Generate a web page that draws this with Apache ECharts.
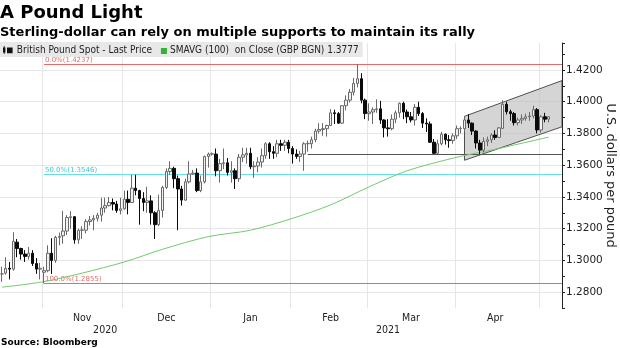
<!DOCTYPE html>
<html>
<head>
<meta charset="utf-8">
<script src="https://cdn.jsdelivr.net/npm/echarts@6/dist/echarts.min.js"></script>
<style>
html, body { margin: 0; padding: 0; background: #fff; }
#chart { width: 620px; height: 348px; }
</style>
</head>
<body>
<div id="chart"></div>
<script>
// Trading days (weekdays) shown on the category axis, grouped by month
const tradingDays = [
  ['2020-10', [16, 19, 20, 21, 22, 23, 26, 27, 28, 29, 30]],
  ['2020-11', [2, 3, 4, 5, 6, 9, 10, 11, 12, 13, 16, 17, 18, 19, 20, 23, 24, 25, 26, 27, 30]],
  ['2020-12', [1, 2, 3, 4, 7, 8, 9, 10, 11, 14, 15, 16, 17, 18, 21, 22, 23, 24, 25, 28, 29, 30, 31]],
  ['2021-01', [1, 4, 5, 6, 7, 8, 11, 12, 13, 14, 15, 18, 19, 20, 21, 22, 25, 26, 27, 28, 29]],
  ['2021-02', [1, 2, 3, 4, 5, 8, 9, 10, 11, 12, 15, 16, 17, 18, 19, 22, 23, 24, 25, 26]],
  ['2021-03', [1, 2, 3, 4, 5, 8, 9, 10, 11, 12, 15, 16, 17, 18, 19, 22, 23, 24, 25, 26, 29, 30, 31]],
  ['2021-04', [1, 2, 5, 6, 7, 8, 9, 12, 13, 14, 15, 16, 19, 20, 21, 22, 23, 26, 27, 28, 29, 30]],
  ['2021-05', [3, 4, 5, 6, 7, 10]]
];
const dates = tradingDays.flatMap(([m, days]) => days.map(d => m + '-' + String(d).padStart(2, '0')));

// GBP/USD daily candles: [open, close, low, high]
const candles = [
  // Oct 2020
  [1.2915, 1.2915, 1.2865, 1.2960], [1.2920, 1.2950, 1.2910, 1.3020], [1.2950, 1.2945, 1.2880, 1.2990],
  [1.2945, 1.3120, 1.2935, 1.3177], [1.3115, 1.3075, 1.3020, 1.3135], [1.3075, 1.3040, 1.3005, 1.3080],
  [1.3040, 1.3025, 1.2990, 1.3065], [1.3025, 1.3045, 1.3005, 1.3085], [1.3045, 1.2980, 1.2965, 1.3065],
  [1.2980, 1.2945, 1.2915, 1.3015], [1.2945, 1.2950, 1.2880, 1.2985],
  // Nov 2020
  [1.2925, 1.2935, 1.2855, 1.2960], [1.2935, 1.3045, 1.2925, 1.3095], [1.3045, 1.3000, 1.2915, 1.3140],
  [1.3000, 1.3145, 1.2985, 1.3155], [1.3145, 1.3150, 1.3095, 1.3175], [1.3155, 1.3185, 1.3105, 1.3312],
  [1.3185, 1.3270, 1.3160, 1.3285], [1.3270, 1.3275, 1.3200, 1.3310], [1.3275, 1.3130, 1.3105, 1.3280],
  [1.3130, 1.3190, 1.3105, 1.3200], [1.3190, 1.3192, 1.3135, 1.3215], [1.3190, 1.3245, 1.3170, 1.3260],
  [1.3245, 1.3255, 1.3220, 1.3280], [1.3255, 1.3265, 1.3190, 1.3285], [1.3265, 1.3285, 1.3245, 1.3300],
  [1.3285, 1.3330, 1.3245, 1.3395], [1.3330, 1.3345, 1.3300, 1.3395], [1.3345, 1.3365, 1.3340, 1.3400],
  [1.3365, 1.3355, 1.3315, 1.3390], [1.3355, 1.3315, 1.3300, 1.3375], [1.3315, 1.3325, 1.3290, 1.3395],
  // Dec 2020
  [1.3325, 1.3385, 1.3320, 1.3440], [1.3385, 1.3365, 1.3290, 1.3440], [1.3365, 1.3455, 1.3365, 1.3539],
  [1.3455, 1.3440, 1.3410, 1.3540], [1.3440, 1.3390, 1.3225, 1.3445], [1.3390, 1.3365, 1.3310, 1.3430],
  [1.3365, 1.3375, 1.3300, 1.3465], [1.3375, 1.3300, 1.3225, 1.3410], [1.3300, 1.3225, 1.3135, 1.3310],
  [1.3225, 1.3315, 1.3215, 1.3415], [1.3315, 1.3460, 1.3270, 1.3470], [1.3460, 1.3560, 1.3450, 1.3580],
  [1.3560, 1.3580, 1.3540, 1.3625], [1.3580, 1.3515, 1.3455, 1.3590], [1.3515, 1.3450, 1.3190, 1.3535],
  [1.3450, 1.3380, 1.3345, 1.3470], [1.3380, 1.3495, 1.3375, 1.3515], [1.3495, 1.3545, 1.3485, 1.3625],
  [1.3545, 1.3550, 1.3540, 1.3570], [1.3550, 1.3440, 1.3430, 1.3580], [1.3440, 1.3495, 1.3430, 1.3535],
  [1.3495, 1.3655, 1.3485, 1.3660], [1.3655, 1.3670, 1.3585, 1.3680],
  // Jan 2021
  [1.3670, 1.3672, 1.3660, 1.3680], [1.3670, 1.3565, 1.3530, 1.3705], [1.3565, 1.3610, 1.3490, 1.3640],
  [1.3610, 1.3615, 1.3575, 1.3705], [1.3615, 1.3555, 1.3535, 1.3645], [1.3555, 1.3565, 1.3490, 1.3625],
  [1.3565, 1.3515, 1.3450, 1.3580], [1.3515, 1.3650, 1.3495, 1.3670], [1.3650, 1.3665, 1.3620, 1.3710],
  [1.3665, 1.3675, 1.3610, 1.3710], [1.3675, 1.3590, 1.3575, 1.3710], [1.3590, 1.3595, 1.3520, 1.3625],
  [1.3595, 1.3620, 1.3555, 1.3650], [1.3620, 1.3660, 1.3585, 1.3705], [1.3660, 1.3735, 1.3640, 1.3745],
  [1.3735, 1.3685, 1.3640, 1.3745], [1.3685, 1.3675, 1.3640, 1.3720], [1.3675, 1.3735, 1.3650, 1.3760],
  [1.3735, 1.3725, 1.3690, 1.3760], [1.3725, 1.3745, 1.3690, 1.3760], [1.3745, 1.3705, 1.3675, 1.3760],
  // Feb 2021
  [1.3705, 1.3670, 1.3610, 1.3720], [1.3670, 1.3655, 1.3640, 1.3700], [1.3655, 1.3670, 1.3620, 1.3690],
  [1.3670, 1.3735, 1.3565, 1.3745], [1.3735, 1.3737, 1.3685, 1.3755], [1.3735, 1.3760, 1.3705, 1.3780],
  [1.3760, 1.3815, 1.3745, 1.3830], [1.3815, 1.3825, 1.3800, 1.3865], [1.3825, 1.3830, 1.3785, 1.3865],
  [1.3830, 1.3850, 1.3780, 1.3855], [1.3850, 1.3930, 1.3850, 1.3953], [1.3930, 1.3925, 1.3860, 1.3950],
  [1.3925, 1.3865, 1.3860, 1.3935], [1.3865, 1.3975, 1.3860, 1.3978], [1.3975, 1.4010, 1.3945, 1.4040],
  [1.4010, 1.4060, 1.3995, 1.4080], [1.4060, 1.4115, 1.4040, 1.4150], [1.4115, 1.4145, 1.4090, 1.4237],
  [1.4145, 1.4010, 1.3990, 1.4180], [1.4010, 1.3925, 1.3890, 1.4020],
  // Mar 2021
  [1.3925, 1.3935, 1.3880, 1.3990], [1.3935, 1.3950, 1.3860, 1.3965], [1.3950, 1.3955, 1.3930, 1.4015],
  [1.3955, 1.3885, 1.3860, 1.4005], [1.3885, 1.3835, 1.3775, 1.3890], [1.3835, 1.3830, 1.3780, 1.3890],
  [1.3830, 1.3890, 1.3820, 1.3920], [1.3890, 1.3930, 1.3865, 1.3945], [1.3930, 1.3990, 1.3900, 1.3995],
  [1.3990, 1.3935, 1.3890, 1.4000], [1.3935, 1.3905, 1.3865, 1.3950], [1.3905, 1.3885, 1.3870, 1.3935],
  [1.3885, 1.3965, 1.3850, 1.3985], [1.3965, 1.3925, 1.3910, 1.4000], [1.3925, 1.3865, 1.3835, 1.3935],
  [1.3865, 1.3860, 1.3810, 1.3895], [1.3860, 1.3745, 1.3740, 1.3875], [1.3745, 1.3675, 1.3670, 1.3765],
  [1.3675, 1.3735, 1.3670, 1.3760], [1.3735, 1.3795, 1.3725, 1.3810], [1.3795, 1.3760, 1.3730, 1.3800],
  [1.3760, 1.3755, 1.3710, 1.3790], [1.3755, 1.3785, 1.3735, 1.3800],
  // Apr 2021
  [1.3785, 1.3830, 1.3765, 1.3850], [1.3830, 1.3832, 1.3800, 1.3845], [1.3830, 1.3885, 1.3810, 1.3900],
  [1.3885, 1.3865, 1.3835, 1.3920], [1.3865, 1.3815, 1.3790, 1.3870], [1.3815, 1.3740, 1.3705, 1.3820],
  [1.3740, 1.3695, 1.3670, 1.3760], [1.3695, 1.3750, 1.3680, 1.3775], [1.3750, 1.3760, 1.3720, 1.3780],
  [1.3760, 1.3790, 1.3740, 1.3800], [1.3790, 1.3775, 1.3760, 1.3820], [1.3775, 1.3835, 1.3775, 1.3840],
  [1.3832, 1.3984, 1.3830, 1.4010], [1.3984, 1.3937, 1.3920, 1.4000], [1.3937, 1.3925, 1.3880, 1.3950],
  [1.3925, 1.3868, 1.3850, 1.3935], [1.3868, 1.3885, 1.3850, 1.3900], [1.3885, 1.3895, 1.3860, 1.3920],
  [1.3895, 1.3905, 1.3880, 1.3925], [1.3905, 1.3910, 1.3880, 1.3935], [1.3910, 1.3950, 1.3895, 1.3975],
  [1.3950, 1.3822, 1.3800, 1.3960],
  // May 2021
  [1.3822, 1.3905, 1.3805, 1.3915], [1.3905, 1.3890, 1.3870, 1.3930], [1.3890, 1.3905, 1.3870, 1.3910]
];

// 100-day simple moving average of the close
const smaDates = ['2020-10-16', '2020-11-02', '2020-11-16', '2020-12-01', '2020-12-15', '2020-12-31',
  '2021-01-15', '2021-02-01', '2021-02-15', '2021-03-01', '2021-03-15', '2021-04-01', '2021-04-15', '2021-05-05'];
const smaValues = [1.2831, 1.2866, 1.2920, 1.2990, 1.3070, 1.3150,
  1.3190, 1.3265, 1.3350, 1.3463, 1.3565, 1.3650, 1.3700, 1.3777];

// Fibonacci retracement of the Nov low -> Feb high, plus the horizontal support
const levelStart = ['2020-11-02', '2020-11-02', '2020-11-02', '2021-02-05'];
const levelValues = [1.4237, 1.3546, 1.2855, 1.3668];
const levelPct = [0.0, 50.0, 100.0, null];

// Rising regression channel
const channelDates = ['2021-04-05', '2021-05-10'];
const channelUpper = [1.3908, 1.4133];
const channelLower = [1.3631, 1.3842];

// Axis label placement
const monthLabels = ['Nov', 'Dec', 'Jan', 'Feb', 'Mar', 'Apr'];
const monthLabelDates = ['2020-11-16', '2020-12-16', '2021-01-15', '2021-02-15', '2021-03-16', '2021-04-15'];
const monthStartDates = ['2020-11-02', '2020-12-01', '2021-01-01', '2021-02-01', '2021-03-01', '2021-04-01', '2021-05-03'];
const yearLabels = ['2020', '2021'];
const yearLabelDates = ['2020-11-24', '2021-03-08'];

const CANDLE_NAME = 'British Pound Spot - Last Price';
const SMA_NAME = 'SMAVG (100)  on Close (GBP BGN) 1.3777';

const FONT = "'DejaVu Sans', sans-serif";
const COND = "'DejaVu Sans Condensed', 'DejaVu Sans', sans-serif";
const levelLine = ['#e46a6a', '#66e0e6', '#e46a6a', '#555555'];
const levelText = ['#e46a6a', '#3cc8d0', '#e46a6a', '#555555'];

const chart = echarts.init(document.getElementById('chart'), null, { renderer: 'canvas' });

chart.setOption({
  animation: false,
  backgroundColor: '#ffffff',
  textStyle: { fontFamily: FONT },
  title: [
    { text: 'A Pound Light', left: 0, top: 4, padding: 0,
      textStyle: { fontFamily: FONT, fontWeight: 'bold', fontSize: 18, color: '#000' } },
    { text: 'Sterling-dollar can rely on multiple supports to maintain its rally', left: 0, top: 26, padding: 0,
      textStyle: { fontFamily: FONT, fontWeight: 'bold', fontSize: 13, color: '#000' } },
    { text: 'Source: Bloomberg', left: 1, top: 338, padding: 0,
      textStyle: { fontFamily: FONT, fontWeight: 'bold', fontSize: 9, color: '#000' } }
  ],
  legend: {
    left: 0, top: 42, padding: [3, 4, 2, 3], backgroundColor: '#e8e8e8',
    itemGap: 3, itemWidth: 12, itemHeight: 8,
    textStyle: { fontFamily: COND, fontSize: 10, color: '#222', padding: [0, 0, 0, -2] },
    selectedMode: false,
    data: [
      { name: CANDLE_NAME, icon: 'path://M1,0h1v10h-1z M0,2h3v6h-3z M5,2h7v7h-7z', itemStyle: { color: '#111', borderWidth: 0 } },
      { name: SMA_NAME, icon: 'path://M0,0M6,2h6v6h-6z', itemStyle: { color: '#2fb52f', borderWidth: 0 } }
    ]
  },
  grid: { left: 0, right: 58, top: 43, bottom: 40, containLabel: false, outerBoundsMode: 'none' },
  xAxis: [
    {
      type: 'category', data: dates, boundaryGap: true,
      axisLine: { show: false }, axisTick: { show: false },
      axisLabel: {
        interval: (i, v) => monthLabelDates.includes(v),
        formatter: v => monthLabels[monthLabelDates.indexOf(v)] || '',
        margin: 5, fontFamily: COND, fontSize: 10.5, color: '#222'
      },
      splitLine: { show: true, interval: (i, v) => monthStartDates.includes(v), lineStyle: { color: '#e6e6e6', width: 1 } }
    },
    {
      type: 'category', data: dates, boundaryGap: true, position: 'bottom', offset: 12,
      axisLine: { show: false }, axisTick: { show: false }, splitLine: { show: false },
      axisLabel: {
        interval: (i, v) => yearLabelDates.includes(v),
        formatter: v => yearLabels[yearLabelDates.indexOf(v)] || '',
        margin: 5, fontFamily: COND, fontSize: 10.5, color: '#222'
      }
    }
  ],
  yAxis: {
    type: 'value', position: 'right', min: 1.27, max: 1.437, splitNumber: 8,
    axisLine: { show: true, lineStyle: { color: '#222' } },
    axisTick: { show: true, length: 3, lineStyle: { color: '#222' } },
    minorTick: { show: true, splitNumber: 2, length: 3, lineStyle: { color: '#222' } },
    axisLabel: { margin: 4, showMinLabel: false, showMaxLabel: false, formatter: v => v.toFixed(4),
      fontFamily: FONT, fontSize: 10.5, color: '#222' },
    splitLine: { show: true, showMinLine: false, showMaxLine: false, lineStyle: { color: '#e6e6e6' } },
    name: 'U.S. dollars per pound', nameLocation: 'middle', nameRotate: -90, nameGap: 42,
    nameMoveOverlap: false,
    nameTextStyle: { fontFamily: FONT, fontSize: 13, color: '#222' }
  },
  series: [
    {
      type: 'custom', name: 'channel', silent: true, z: 1, clip: true,
      data: channelDates.map((d, i) => [d, channelUpper[i], channelLower[i]]),
      encode: { x: 0, y: [1, 2] },
      renderItem(params, api) {
        if (params.dataIndex !== 0) return null;
        const half = api.size([1, 0])[0] / 2;
        const tl = api.coord([api.value(0, 0), api.value(1, 0)]);
        const bl = api.coord([api.value(0, 0), api.value(2, 0)]);
        const tr = api.coord([api.value(0, 1), api.value(1, 1)]);
        const br = api.coord([api.value(0, 1), api.value(2, 1)]);
        tr[0] += half; br[0] += half;
        return {
          type: 'polygon',
          shape: { points: [tl, tr, br, bl] },
          style: { fill: 'rgba(190,190,190,0.65)', stroke: '#505050', lineWidth: 1 }
        };
      }
    },
    {
      type: 'custom', name: 'levels', silent: true, z: 2, clip: true,
      data: levelStart.map((d, i) => [d, levelValues[i]]),
      encode: { x: 0, y: 1 },
      renderItem(params, api) {
        const i = params.dataIndex;
        const p = api.coord([api.value(0), api.value(1)]);
        const y = Math.round(p[1]) + 0.5;
        const xEnd = params.coordSys.x + params.coordSys.width;
        const children = [{
          type: 'line', shape: { x1: p[0], y1: y, x2: xEnd, y2: y },
          style: { stroke: levelLine[i], lineWidth: 1 }
        }];
        if (levelPct[i] !== null) {
          children.push({
            type: 'text', x: p[0] + 1, y: y - 1,
            style: { text: levelPct[i].toFixed(1) + '%(' + api.value(1).toFixed(4) + ')',
              fill: levelText[i], font: '7px ' + FONT, align: 'left', verticalAlign: 'bottom' }
          });
        }
        return { type: 'group', children };
      }
    },
    {
      type: 'line', name: SMA_NAME, z: 3,
      data: smaDates.map((d, i) => [d, smaValues[i]]),
      showSymbol: false, smooth: 0.3,
      lineStyle: { color: '#72c972', width: 1 }
    },
    {
      type: 'candlestick', name: CANDLE_NAME, z: 4,
      data: candles, barWidth: 3,
      itemStyle: { color: '#f0f0f0', color0: '#0a0a0a', borderColor: '#6a6a6a', borderColor0: '#0a0a0a', borderWidth: 1 }
    }
  ]
});
</script>
</body>
</html>
